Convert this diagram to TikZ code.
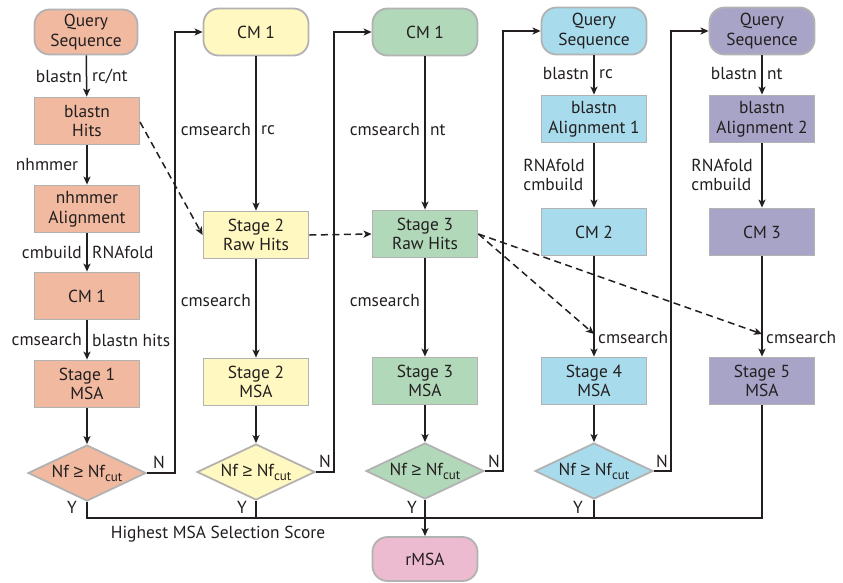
\documentclass[tikz,border=0pt]{standalone}
\usepackage{fontspec}
\setmainfont{PT Sans}
\newfontfamily\symf{Liberation Sans}
\usetikzlibrary{shapes.geometric,arrows.meta}
\definecolor{cSalmon}{RGB}{240,185,160}
\definecolor{cYellow}{RGB}{255,248,192}
\definecolor{cGreen}{RGB}{177,216,185}
\definecolor{cBlue}{RGB}{168,220,236}
\definecolor{cPurple}{RGB}{168,164,200}
\definecolor{cPink}{RGB}{237,187,208}
\definecolor{cEdge}{RGB}{178,178,178}
\definecolor{cInk}{RGB}{35,31,32}
\tikzset{
  every node/.style={text=cInk, font=\fontsize{17.4}{19.5}\selectfont},
  box/.style={draw=cEdge, line width=1.8pt, minimum width=105pt, minimum height=47pt,
    inner sep=0pt, align=center},
  term/.style={box, rounded corners=15pt},
  test/.style={diamond, draw=cEdge, line width=1.8pt, minimum width=118pt,
    minimum height=56pt, inner sep=0pt, aspect=2},
  flow/.style={draw=cInk, line width=1.5pt, -{Stealth[length=8pt,width=7pt,inset=2pt]}},
  bus/.style={draw=cInk, line width=1.5pt},
  hint/.style={draw=cInk, line width=1.5pt, dash pattern=on 7pt off 4.5pt,
    -{Stealth[length=8pt,width=7pt,inset=2pt]}},
  lbl/.style={inner sep=0pt},
}
\newcommand{\nfcut}{Nf~{\symf ≥}~Nf\raisebox{-4pt}{\fontsize{13}{13}\selectfont cut}}
\begin{document}
\begin{tikzpicture}[x=1pt,y=-1pt]
\useasboundingbox (0,0) rectangle (843,582);

% column 1
\node[term, fill=cSalmon, minimum width=103pt, minimum height=45pt] (q1) at (86,32) {Query\\Sequence};
\node[box, fill=cSalmon] (bh) at (87,121) {blastn\\Hits};
\node[box, fill=cSalmon] (nh) at (87,209) {nhmmer\\Alignment};
\node[box, fill=cSalmon] (cm1a) at (87,296) {CM 1};
\node[box, fill=cSalmon] (s1) at (87,384) {Stage 1\\MSA};
\node[test, fill=cSalmon] (d1) at (87,473) {\nfcut};

% column 2
\node[term, fill=cYellow] (cm1b) at (256,32) {CM 1};
\node[box, fill=cYellow] (r2) at (256,235) {Stage 2\\Raw Hits};
\node[box, fill=cYellow] (s2) at (256,382) {Stage 2\\MSA};
\node[test, fill=cYellow] (d2) at (256,472) {\nfcut};

% column 3
\node[term, fill=cGreen] (cm1c) at (425,32) {CM 1};
\node[box, fill=cGreen] (r3) at (425,234) {Stage 3\\Raw Hits};
\node[box, fill=cGreen] (s3) at (425,381) {Stage 3\\MSA};
\node[test, fill=cGreen] (d3) at (425,471) {\nfcut};

% column 4
\node[term, fill=cBlue] (q4) at (594,31) {Query\\Sequence};
\node[box, fill=cBlue] (a1) at (594,119) {blastn\\Alignment 1};
\node[box, fill=cBlue] (cm2) at (594,232) {CM 2};
\node[box, fill=cBlue] (s4) at (594,381) {Stage 4\\MSA};
\node[test, fill=cBlue] (d4) at (594,471) {\nfcut};

% column 5
\node[term, fill=cPurple] (q5) at (762,31) {Query\\Sequence};
\node[box, fill=cPurple] (a2) at (762,119) {blastn\\Alignment 2};
\node[box, fill=cPurple] (cm3) at (762,232) {CM 3};
\node[box, fill=cPurple] (s5) at (762,381) {Stage 5\\MSA};

% result
\node[term, fill=cPink, minimum height=44pt] (rmsa) at (425,559) {rMSA};

% vertical flow, column 1
\draw[flow] (q1) -- (bh);
\node[lbl, anchor=east] (l1a) at (82,77) {blastn};
\node[lbl, anchor=west] (l1b) at (92,77) {rc/nt};
\draw[flow] (bh) -- (nh);
\node[lbl] (l1c) at (47,165) {nhmmer};
\draw[flow] (nh) -- (cm1a);
\node[lbl, anchor=east] (l1d) at (82,252) {cmbuild};
\node[lbl, anchor=west] (l1e) at (92,252) {RNAfold};
\draw[flow] (cm1a) -- (s1);
\node[lbl, anchor=east] (l1f) at (82,340) {cmsearch};
\node[lbl, anchor=west] (l1g) at (92,340) {blastn hits};
\draw[flow] (s1) -- (d1);

% vertical flow, column 2
\draw[flow] (cm1b) -- (r2);
\node[lbl, anchor=east] (l2a) at (251,130) {cmsearch};
\node[lbl, anchor=west] (l2b) at (261,130) {rc};
\draw[flow] (r2) -- (s2);
\node[lbl, anchor=east] (l2c) at (251,301) {cmsearch};
\draw[flow] (s2) -- (d2);

% vertical flow, column 3
\draw[flow] (cm1c) -- (r3);
\node[lbl, anchor=east] (l3a) at (420,130) {cmsearch};
\node[lbl, anchor=west] (l3b) at (430,130) {nt};
\draw[flow] (r3) -- (s3);
\node[lbl, anchor=east] (l3c) at (420,301) {cmsearch};
\draw[flow] (s3) -- (d3);

% vertical flow, column 4
\draw[flow] (q4) -- (a1);
\node[lbl, anchor=east] (l4a) at (589,74) {blastn};
\node[lbl, anchor=west] (l4b) at (599,74) {rc};
\draw[flow] (a1) -- (cm2);
\node[lbl, anchor=east, align=left] (l4c) at (585,175) {RNAfold\\cmbuild};
\draw[flow] (cm2) -- (s4);
\node[lbl, anchor=west] (l4d) at (598,338) {cmsearch};
\draw[flow] (s4) -- (d4);

% vertical flow, column 5
\draw[flow] (q5) -- (a2);
\node[lbl, anchor=east] (l5a) at (757,74) {blastn};
\node[lbl, anchor=west] (l5b) at (767,74) {nt};
\draw[flow] (a2) -- (cm3);
\node[lbl, anchor=east, align=left] (l5c) at (753,175) {RNAfold\\cmbuild};
\draw[flow] (cm3) -- (s5);
\node[lbl, anchor=west] (l5d) at (766,338) {cmsearch};

% "N" branches back to the next column
\coordinate (n1) at (175,0);
\coordinate (n2) at (334,0);
\coordinate (n3) at (503,0);
\coordinate (n4) at (671,0);
\draw[flow] (d1.east) -- (d1.east -| n1) |- (cm1b.west);
\draw[flow] (d2.east) -- (d2.east -| n2) |- (cm1c.west);
\draw[flow] (d3.east) -- (d3.east -| n3) |- (q4.west);
\draw[flow] (d4.east) -- (d4.east -| n4) |- (q5.west);
\node[lbl] (N1) at (159,462) {N};
\node[lbl] (N2) at (325,461) {N};
\node[lbl] (N3) at (494,461) {N};
\node[lbl] (N4) at (662,461) {N};

% hits handed forward
\coordinate (bhx) at (140,122);
\coordinate (j4) at (594,334);
\coordinate (j5) at (762,334);
\draw[hint] (bhx) -- (r2.west);
\draw[hint] (r2.east) -- (r3.west);
\draw[hint] (r3.east) -- (j4);
\draw[hint] (r3.east) -- (j5);

% "Y" branches collected into the final choice
\coordinate (busy) at (0,518);
\draw[bus] (d1.south) -- (d1.south |- busy) -- (s5.south |- busy) -- (s5.south);
\draw[bus] (d2.south) -- (d2.south |- busy);
\draw[bus] (d4.south) -- (d4.south |- busy);
\draw[flow] (d3.south) -- (rmsa.north);
\node[lbl] (Y1) at (72,507) {Y};
\node[lbl] (Y2) at (242,507) {Y};
\node[lbl] (Y3) at (412,507) {Y};
\node[lbl] (Y4) at (578,507) {Y};
\node[lbl] (sel) at (218,534) {Highest MSA Selection Score};
\end{tikzpicture}
\end{document}
